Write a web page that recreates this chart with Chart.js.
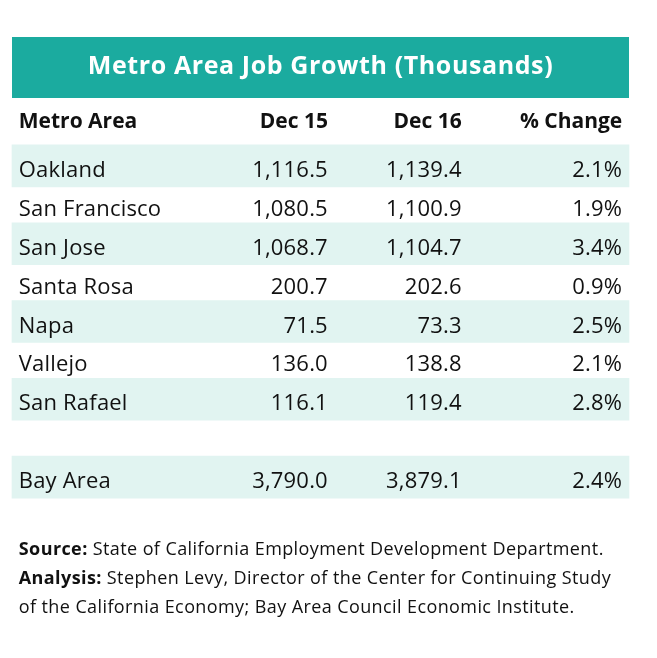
<!DOCTYPE html>
<html>
<head>
<meta charset="utf-8">
<script src="https://cdn.jsdelivr.net/npm/chart.js@4.4.1/dist/chart.umd.min.js"></script>
<style>
html,body{margin:0;padding:0;background:#fff;}
canvas{display:block;}
</style>
</head>
<body>
<canvas id="c" width="657" height="658"></canvas>
<script>
const chartTitle = 'Metro Area Job Growth (Thousands)';
const headers = ['Metro Area', 'Dec 15', 'Dec 16', '% Change'];
const metros = ['Oakland', 'San Francisco', 'San Jose', 'Santa Rosa', 'Napa', 'Vallejo', 'San Rafael', '', 'Bay Area'];
const dec15 = [1116.5, 1080.5, 1068.7, 200.7, 71.5, 136.0, 116.1, null, 3790.0];
const dec16 = [1139.4, 1100.9, 1104.7, 202.6, 73.3, 138.8, 119.4, null, 3879.1];
const pctChange = [2.1, 1.9, 3.4, 0.9, 2.5, 2.1, 2.8, null, 2.4];
const shaded = [true, false, true, false, true, false, true, false, true];
const notes = [
  [['Source: ', true], ['State of California Employment Development Department.', false]],
  [['Analysis: ', true], ['Stephen Levy, Director of the Center for Continuing Study', false]],
  [['of the California Economy; Bay Area Council Economic Institute.', false]]
];

const FONT = '"Open Sans", Lato, sans-serif';
const TEAL = '#1bab9f';
const BAND = '#e1f4f1';
const INK = '#111111';
// column anchors on the 0-100 x scale
const COLS = [{x: 1.1, align: 'left'}, {x: 51.2, align: 'right'}, {x: 72.9, align: 'right'}, {x: 98.9, align: 'right'}];

const fmtNum = v => v.toLocaleString('en-US', {minimumFractionDigits: 1, maximumFractionDigits: 1});
const fmtPct = v => v.toFixed(1) + '%';

function setSpacing(ctx, px) { if ('letterSpacing' in ctx) ctx.letterSpacing = px + 'px'; }

const tablePlugin = {
  id: 'tablePlugin',
  beforeDraw(chart) {
    const {ctx, chartArea} = chart;
    ctx.save();
    ctx.fillStyle = '#ffffff';
    ctx.fillRect(0, 0, chart.width, chart.height);
    ctx.fillStyle = TEAL;
    ctx.fillRect(chartArea.left, 37, chartArea.right - chartArea.left, 61);
    ctx.fillStyle = '#ffffff';
    ctx.font = 'bold 25px ' + FONT;
    setSpacing(ctx, 0.6);
    ctx.textAlign = 'center';
    ctx.textBaseline = 'alphabetic';
    ctx.fillText(chartTitle, (chartArea.left + chartArea.right) / 2, 74);
    ctx.restore();
  },
  afterDatasetsDraw(chart) {
    const {ctx, chartArea} = chart;
    const xs = chart.scales.x, ys = chart.scales.y;
    ctx.save();
    ctx.fillStyle = INK;
    ctx.textBaseline = 'alphabetic';
    const base0 = ys.getPixelForValue(0) + 11;
    // header row
    ctx.font = 'bold 21px ' + FONT;
    setSpacing(ctx, 0);
    headers.forEach((h, j) => {
      ctx.textAlign = COLS[j].align;
      ctx.fillText(h, xs.getPixelForValue(COLS[j].x), base0 - 49);
    });
    // body
    ctx.font = '22px ' + FONT;
    setSpacing(ctx, 0.2);
    metros.forEach((m, i) => {
      if (!m) return;
      const y = ys.getPixelForValue(i) + 11;
      const cells = [m, fmtNum(dec15[i]), fmtNum(dec16[i]), fmtPct(pctChange[i])];
      cells.forEach((t, j) => {
        ctx.textAlign = COLS[j].align;
        ctx.fillText(t, xs.getPixelForValue(COLS[j].x), y);
      });
    });
    // footnotes
    ctx.textAlign = 'left';
    setSpacing(ctx, 0.4);
    let fy = chartArea.bottom + 58;
    notes.forEach(line => {
      let x = xs.getPixelForValue(COLS[0].x);
      line.forEach(([txt, bold]) => {
        ctx.font = (bold ? 'bold ' : '') + '18px ' + FONT;
        ctx.fillText(txt, x, fy);
        x += ctx.measureText(txt).width;
      });
      fy += 29;
    });
    ctx.restore();
  }
};

new Chart(document.getElementById('c'), {
  type: 'bar',
  data: {
    labels: metros,
    datasets: [{
      data: shaded.map(s => s ? [0, 100] : null),
      backgroundColor: BAND,
      borderWidth: 0,
      barThickness: 42,
      clip: false
    }]
  },
  options: {
    indexAxis: 'y',
    responsive: false,
    animation: false,
    layout: {padding: {left: 12, right: 28, top: 146.5, bottom: 161.5}},
    plugins: {legend: {display: false}, tooltip: {enabled: false}, title: {display: false}},
    scales: {
      x: {type: 'linear', min: 0, max: 100, display: false},
      y: {type: 'category', display: false, offset: true}
    }
  },
  plugins: [tablePlugin]
});
</script>
</body>
</html>
